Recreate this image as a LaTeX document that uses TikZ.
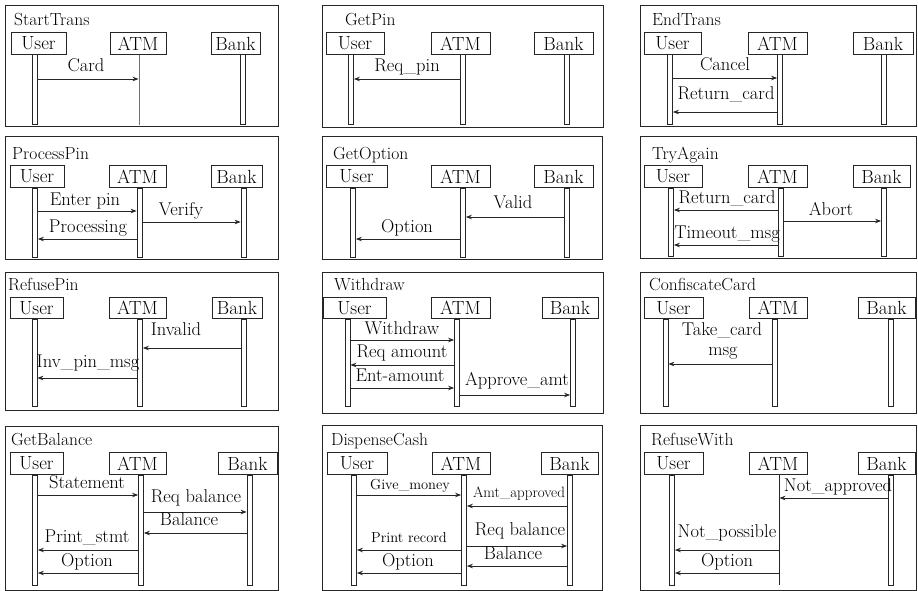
\documentclass[tikz,border=0pt]{standalone}
\usepackage{fontspec}
\usetikzlibrary{arrows.meta}
\newcommand\lmwide{\addfontfeatures{FakeStretch=1.1,FakeBold=0.4}}
\tikzset{
 frm/.style={draw=black!85, line width=1pt},
 actor/.style={draw=black!85, line width=0.9pt, minimum height=22pt, inner sep=0pt, font=\fontsize{19}{19}\selectfont\lmwide},
 life/.style={draw=black!85, fill=white, line width=0.8pt, minimum width=5pt, inner sep=0pt, anchor=north},
 life0/.style={draw=black!85, line width=0.9pt, minimum width=0pt, inner sep=0pt, anchor=north},
 msg/.style={draw=black!85, line width=0.8pt, -{Stealth[length=6pt,width=4.5pt]}},
 lbl/.style={font=\fontsize{18.5}{19}\selectfont\lmwide, inner sep=0pt, anchor=base},
 mlbl/.style={font=\fontsize{15}{16}\selectfont\lmwide, inner sep=0pt, anchor=base},
 slbl/.style={font=\fontsize{14.5}{16}\selectfont\addfontfeatures{LetterSpace=7,FakeStretch=1.1,FakeBold=0.4}, inner sep=0pt, anchor=base},
 ttl/.style={font=\fontsize{17.5}{18}\selectfont\addfontfeatures{FakeStretch=1.1}, inner sep=0pt, anchor=base west},
}
\begin{document}
\begin{tikzpicture}[x=1pt,y=-1pt]
\useasboundingbox (0,0) rectangle (918,591);
% ---------- Panel 1: StartTrans
\draw[frm] (5,6) rectangle (278,127);
\node[ttl] (t1) at (14,26) {StartTrans};
\node[actor, minimum width=55pt] (a1u) at (38.5,43.5) {User};
\node[actor, minimum width=56pt] (a1a) at (138,43.5) {ATM};
\node[actor, minimum width=49pt] (a1b) at (235.5,43.5) {Bank};
\node[life, minimum height=70pt] (l1u) at (35,54.5) {};
\node[life0, minimum height=70pt] (l1a) at (139,54.5) {};
\node[life, minimum height=70pt] (l1b) at (243,54.5) {};
\draw[msg] (l1u.east |- 0,79) -- (l1a.west |- 0,79);
\node[lbl] (m1a) at (86,72) {Card};
% ---------- Panel 2: GetPin
\draw[frm] (322,6) rectangle (603,128);
\node[ttl] (t2) at (345,26) {GetPin};
\node[actor, minimum width=58pt] (a2u) at (355,43.5) {User};
\node[actor, minimum width=59pt] (a2a) at (460.5,43.5) {ATM};
\node[actor, minimum width=59pt] (a2b) at (563.5,43.5) {Bank};
\node[life, minimum height=70pt] (l2u) at (351,54.5) {};
\node[life, minimum height=70pt] (l2a) at (463,54.5) {};
\node[life, minimum height=70pt] (l2b) at (567,54.5) {};
\draw[msg] (l2a.west |- 0,79) -- (l2u.east |- 0,79);
\node[lbl] (m2a) at (407,72) {Req\_pin};
% ---------- Panel 3: EndTrans
\draw[frm] (640,6) rectangle (916.5,127);
\node[ttl] (t3) at (652,26) {EndTrans};
\node[actor, minimum width=57pt] (a3u) at (672.5,43.5) {User};
\node[actor, minimum width=59pt] (a3a) at (777.5,43.5) {ATM};
\node[actor, minimum width=60pt] (a3b) at (883,43.5) {Bank};
\node[life, minimum height=70pt] (l3u) at (670,54.5) {};
\node[life, minimum height=70pt] (l3a) at (780,54.5) {};
\node[life, minimum height=70pt] (l3b) at (884,54.5) {};
\draw[msg] (l3u.east |- 0,78) -- (l3a.west |- 0,78);
\node[lbl] (m3a) at (725,71) {Cancel};
\draw[msg] (l3a.west |- 0,112) -- (l3u.east |- 0,112);
\node[lbl] (m3b) at (726,100) {Return\_card};
% ---------- Panel 4: ProcessPin
\draw[frm] (5,137) rectangle (278,259);
\node[ttl] (t4) at (12,160) {ProcessPin};
\node[actor, minimum width=54pt] (a4u) at (37,176.5) {User};
\node[actor, minimum width=57pt] (a4a) at (137.5,176.5) {ATM};
\node[actor, minimum width=51pt] (a4b) at (236.5,176.5) {Bank};
\node[life, minimum height=69pt] (l4u) at (35,187.5) {};
\node[life, minimum height=69pt] (l4a) at (139.5,187.5) {};
\node[life, minimum height=69pt] (l4b) at (243.5,187.5) {};
\draw[msg] (l4u.east |- 0,211) -- (l4a.west |- 0,211);
\node[lbl] (m4a) at (85,205) {Enter pin};
\draw[msg] (l4a.east |- 0,222) -- (l4b.west |- 0,222);
\node[lbl] (m4b) at (181,215) {Verify};
\draw[msg] (l4a.west |- 0,239) -- (l4u.east |- 0,239);
\node[lbl] (m4c) at (88,232) {Processing};
% ---------- Panel 5: GetOption
\draw[frm] (322,137) rectangle (602,259);
\node[ttl] (t5) at (333,160) {GetOption};
\node[actor, minimum width=61pt] (a5u) at (356.5,176.5) {User};
\node[actor, minimum width=59pt] (a5a) at (460.5,176.5) {ATM};
\node[actor, minimum width=59pt] (a5b) at (563.5,176.5) {Bank};
\node[life, minimum height=69pt] (l5u) at (353,187.5) {};
\node[life, minimum height=69pt] (l5a) at (463,187.5) {};
\node[life, minimum height=69pt] (l5b) at (567,187.5) {};
\draw[msg] (l5b.west |- 0,217) -- (l5a.east |- 0,217);
\node[lbl] (m5a) at (513,208) {Valid};
\draw[msg] (l5a.west |- 0,239) -- (l5u.east |- 0,239);
\node[lbl] (m5b) at (407,232) {Option};
% ---------- Panel 6: TryAgain
\draw[frm] (640,137) rectangle (916.5,258);
\node[ttl] (t6) at (652,160) {TryAgain};
\node[actor, minimum width=58pt] (a6u) at (673,176.5) {User};
\node[actor, minimum width=59pt] (a6a) at (777.5,176.5) {ATM};
\node[actor, minimum width=57pt] (a6b) at (881.5,176.5) {Bank};
\node[life, minimum height=68pt] (l6u) at (671,187.5) {};
\node[life, minimum height=68pt] (l6a) at (781,187.5) {};
\node[life, minimum height=68pt] (l6b) at (884,187.5) {};
\draw[msg] (l6a.west |- 0,210) -- (l6u.east |- 0,210);
\node[lbl] (m6a) at (727,203) {Return\_card};
\draw[msg] (l6a.east |- 0,221) -- (l6b.west |- 0,221);
\node[lbl] (m6b) at (831,215) {Abort};
\draw[msg] (l6a.west |- 0,245) -- (l6u.east |- 0,245);
\node[lbl] (m6c) at (727,238) {Timeout\_msg};
% ---------- Panel 7: RefusePin
\draw[frm] (5,272) rectangle (278,410);
\node[ttl] (t7) at (8,290) {RefusePin};
\node[actor, minimum width=53pt, minimum height=21pt] (a7u) at (36.5,308) {User};
\node[actor, minimum width=57pt, minimum height=21pt] (a7a) at (137.5,308) {ATM};
\node[actor, minimum width=50pt, minimum height=21pt] (a7b) at (237,308) {Bank};
\node[life, minimum height=87.5pt] (l7u) at (34.5,318.5) {};
\node[life, minimum height=87.5pt] (l7a) at (140,318.5) {};
\node[life, minimum height=87.5pt] (l7b) at (244,318.5) {};
\draw[msg] (l7b.west |- 0,348) -- (l7a.east |- 0,348);
\node[lbl] (m7a) at (176,335) {Invalid};
\draw[msg] (l7a.west |- 0,378) -- (l7u.east |- 0,378);
\node[lbl] (m7b) at (88,367) {Inv\_pin\_msg};
% ---------- Panel 8: Withdraw
\draw[frm] (322,272) rectangle (603,413);
\node[ttl] (t8) at (334,290) {Withdraw};
\node[actor, minimum width=63pt, minimum height=21pt] (a8u) at (354.5,308) {User};
\node[actor, minimum width=59pt, minimum height=21pt] (a8a) at (460.5,308) {ATM};
\node[actor, minimum width=56pt, minimum height=21pt] (a8b) at (570,308) {Bank};
\node[life, minimum height=87.5pt] (l8u) at (347.5,318.5) {};
\node[life, minimum height=87.5pt] (l8a) at (457,318.5) {};
\node[life, minimum height=87.5pt] (l8b) at (573,318.5) {};
\draw[msg] (l8u.east |- 0,340) -- (l8a.west |- 0,340);
\node[lbl] (m8a) at (402,334) {Withdraw};
\draw[msg] (l8a.west |- 0,365) -- (l8u.east |- 0,365);
\node[lbl] (m8b) at (402,357) {Req amount};
\draw[msg] (l8u.east |- 0,388) -- (l8a.west |- 0,388);
\node[lbl] (m8c) at (400,381) {Ent-amount};
\draw[msg] (l8a.east |- 0,395) -- (l8b.west |- 0,395);
\node[lbl] (m8d) at (517,385) {Approve\_amt};
% ---------- Panel 9: ConfiscateCard
\draw[frm] (640,272) rectangle (916.5,413);
\node[ttl] (t9) at (649,290) {ConfiscateCard};
\node[actor, minimum width=59pt, minimum height=21pt] (a9u) at (673.5,308) {User};
\node[actor, minimum width=58pt, minimum height=21pt] (a9a) at (778,308) {ATM};
\node[actor, minimum width=57pt, minimum height=21pt] (a9b) at (886.5,308) {Bank};
\node[life, minimum height=87.5pt] (l9u) at (665.5,318.5) {};
\node[life, minimum height=87.5pt] (l9a) at (775,318.5) {};
\node[life, minimum height=87.5pt] (l9b) at (891,318.5) {};
\draw[msg] (l9a.west |- 0,364) -- (l9u.east |- 0,364);
\node[lbl] (m9a) at (722,335) {Take\_card};
\node[lbl] (m9b) at (723,355) {msg};
% ---------- Panel 10: GetBalance
\draw[frm] (5,426) rectangle (278,590);
\node[ttl] (t10) at (11,445) {GetBalance};
\node[actor, minimum width=53pt] (a10u) at (36.5,463.5) {User};
\node[actor, minimum width=57pt] (a10a) at (137.5,463.5) {ATM};
\node[actor, minimum width=59pt] (a10b) at (247.5,463.5) {Bank};
\node[life, minimum height=110pt] (l10u) at (35,474.5) {};
\node[life, minimum height=110pt] (l10a) at (141,474.5) {};
\node[life, minimum height=110pt] (l10b) at (249.5,474.5) {};
\draw[msg] (l10u.east |- 0,495) -- (l10a.west |- 0,495);
\node[lbl] (m10a) at (87,488) {Statement};
\draw[msg] (l10a.east |- 0,512) -- (l10b.west |- 0,512);
\node[lbl] (m10b) at (196,502) {Req balance};
\draw[msg] (l10b.west |- 0,533) -- (l10a.east |- 0,533);
\node[lbl] (m10c) at (189,525) {Balance};
\draw[msg] (l10a.west |- 0,550) -- (l10u.east |- 0,550);
\node[lbl] (m10d) at (87,542) {Print\_stmt};
\draw[msg] (l10a.west |- 0,573) -- (l10u.east |- 0,573);
\node[lbl] (m10e) at (87,566) {Option};
% ---------- Panel 11: DispenseCash
\draw[frm] (322,425) rectangle (602,590);
\node[ttl] (t11) at (331,445) {DispenseCash};
\node[actor, minimum width=60pt] (a11u) at (357,463.5) {User};
\node[actor, minimum width=58pt] (a11a) at (461,463.5) {ATM};
\node[actor, minimum width=57pt] (a11b) at (569.5,463.5) {Bank};
\node[life, minimum height=110pt] (l11u) at (354,474.5) {};
\node[life, minimum height=110pt] (l11a) at (464,474.5) {};
\node[life, minimum height=110pt] (l11b) at (570,474.5) {};
\draw[msg] (l11u.east |- 0,495) -- (l11a.west |- 0,495);
\node[slbl] (m11a) at (410,489) {Give\_money};
\draw[msg] (l11b.west |- 0,506) -- (l11a.east |- 0,506);
\node[mlbl] (m11b) at (519,497) {Amt\_approved};
\draw[msg] (l11a.east |- 0,546) -- (l11b.west |- 0,546);
\node[lbl] (m11c) at (520,535) {Req balance};
\draw[msg] (l11a.west |- 0,550) -- (l11u.east |- 0,550);
\node[slbl] (m11d) at (409,542) {Print record};
\draw[msg] (l11b.west |- 0,566) -- (l11a.east |- 0,566);
\node[lbl] (m11e) at (513,559) {Balance};
\draw[msg] (l11a.west |- 0,573) -- (l11u.east |- 0,573);
\node[lbl] (m11f) at (408,566) {Option};
% ---------- Panel 12: RefuseWith
\draw[frm] (640,425) rectangle (916.5,590);
\node[ttl] (t12) at (651,445) {RefuseWith};
\node[actor, minimum width=59pt] (a12u) at (673.5,463.5) {User};
\node[actor, minimum width=58pt] (a12a) at (778,463.5) {ATM};
\node[actor, minimum width=57pt] (a12b) at (886.5,463.5) {Bank};
\node[life, minimum height=110pt] (l12u) at (672,474.5) {};
\node[life0, minimum height=110pt] (l12a) at (779,474.5) {};
\node[life, minimum height=110pt] (l12b) at (891,474.5) {};
\draw[msg] (l12b.west |- 0,498) -- (l12a.east |- 0,498);
\node[lbl] (m12a) at (838,491) {Not\_approved};
\draw[msg] (l12a.west |- 0,550) -- (l12u.east |- 0,550);
\node[lbl] (m12b) at (727,537) {Not\_possible};
\draw[msg] (l12a.west |- 0,573) -- (l12u.east |- 0,573);
\node[lbl] (m12c) at (727,566) {Option};
\end{tikzpicture}
\end{document}
